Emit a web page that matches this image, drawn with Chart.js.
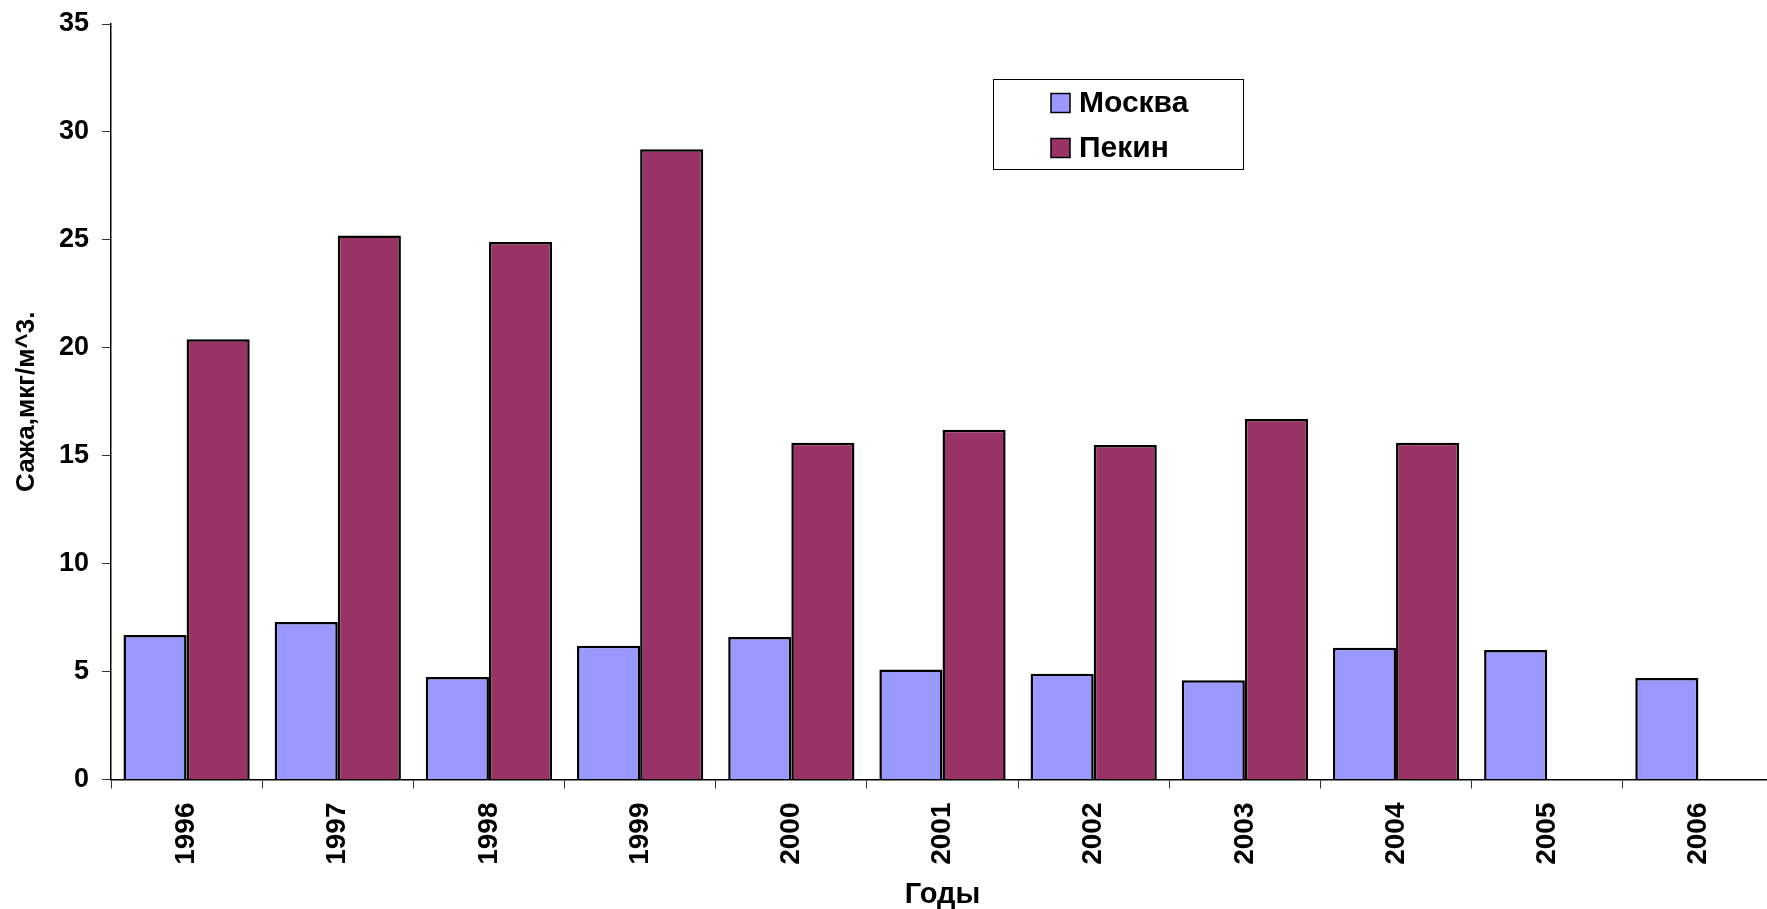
<!DOCTYPE html>
<html>
<head>
<meta charset="utf-8">
<title>Сажа: Москва и Пекин</title>
<script src="https://cdn.jsdelivr.net/npm/chart.js@4/dist/chart.umd.min.js"></script>
<style>
  html, body { margin: 0; padding: 0; background: #fff; overflow: hidden; }
  #wrap { width: 1775px; height: 909px; position: relative; }
</style>
</head>
<body>
<div id="wrap"><canvas id="c"></canvas></div>
<script>
// Годы наблюдений
const years = ['1996', '1997', '1998', '1999', '2000', '2001', '2002', '2003', '2004', '2005', '2006'];
// Среднегодовая концентрация сажи, мкг/м^3
const moscow  = [6.7, 7.3, 4.75, 6.2, 6.6, 5.1, 4.9, 4.6, 6.1, 6.0, 4.7];
const beijing = [20.4, 25.2, 24.9, 29.2, 15.6, 16.2, 15.5, 16.7, 15.6, null, null];
const seriesNames = ['Москва', 'Пекин'];
// Шкала значений
const yMin = 0, yMax = 35, yStep = 5;
const yTitle = 'Сажа,мкг/м^3.';
const xTitle = 'Годы';

const FONT = "'Liberation Sans', Arial, Helvetica, sans-serif";
Chart.defaults.font.family = FONT;
Chart.defaults.color = '#000';

// Легенда в рамке внутри области графика
const boxLegend = {
  id: 'boxLegend',
  afterDraw(chart, args, o) {
    const ctx = chart.ctx;
    ctx.save();
    ctx.fillStyle = '#fff';
    ctx.fillRect(o.x, o.y, o.w, o.h);
    ctx.strokeStyle = '#000';
    ctx.lineWidth = 1;
    ctx.strokeRect(o.x + 0.5, o.y + 0.5, o.w, o.h);
    ctx.font = 'bold ' + o.fontSize + 'px ' + FONT;
    ctx.textBaseline = 'middle';
    ctx.textAlign = 'left';
    chart.data.datasets.forEach((ds, i) => {
      const cy = o.y + o.firstRow + i * o.rowGap;
      const s = o.swatch;
      ctx.fillStyle = ds.backgroundColor;
      ctx.fillRect(o.swatchX, cy - s / 2, s, s);
      ctx.lineWidth = 1.5;
      ctx.strokeStyle = '#000';
      ctx.strokeRect(o.swatchX, cy - s / 2, s, s);
      ctx.fillStyle = '#000';
      ctx.fillText(ds.label, o.textX, cy + 1);
    });
    ctx.restore();
  }
};

new Chart(document.getElementById('c'), {
  type: 'bar',
  data: {
    labels: years,
    datasets: [
      { label: seriesNames[0], data: moscow, backgroundColor: '#9999FF', borderColor: '#000', borderWidth: 2.5 },
      { label: seriesNames[1], data: beijing, backgroundColor: '#993366', borderColor: '#000', borderWidth: 2.5 }
    ]
  },
  plugins: [boxLegend],
  options: {
    responsive: true,
    maintainAspectRatio: false,
    animation: false,
    layout: { padding: { top: 24, right: 1, left: 0, bottom: 0 } },
    datasets: { bar: { categoryPercentage: 0.835, barPercentage: 1.0, borderSkipped: 'start' } },
    plugins: {
      legend: { display: false },
      tooltip: { enabled: false },
      boxLegend: {
        x: 993, y: 79, w: 250, h: 90,
        firstRow: 24, rowGap: 45,
        swatch: 19, swatchX: 1051, textX: 1079, fontSize: 30
      }
    },
    scales: {
      x: {
        grid: { offset: true, drawOnChartArea: false, drawTicks: true, tickLength: 9, color: '#333', lineWidth: 1 },
        border: { display: true, color: '#000', width: 1.5 },
        ticks: { minRotation: 90, maxRotation: 90, padding: 14, font: { size: 28, weight: 'bold' }, color: '#000' },
        title: { display: true, text: xTitle, font: { size: 29, weight: 'bold', lineHeight: 1 }, color: '#000', padding: { top: 0, bottom: 0 } },
        afterFit(scale) { scale.height = 129.5; scale.paddingLeft = 0; scale.paddingRight = 0; }
      },
      y: {
        min: yMin, max: yMax,
        grid: { drawOnChartArea: false, drawTicks: true, tickLength: 9, color: '#333', lineWidth: 1 },
        border: { display: true, color: '#000', width: 1.5 },
        ticks: { stepSize: yStep, padding: 13, font: { size: 27, weight: 'bold' }, color: '#000' },
        title: { display: true, text: yTitle, font: { size: 26, weight: 'bold' }, color: '#000', padding: { top: 11, bottom: 0 } },
        afterFit(scale) { scale.width = 111; scale.paddingTop = 0; scale.paddingBottom = 0; }
      }
    }
  }
});
</script>
</body>
</html>
